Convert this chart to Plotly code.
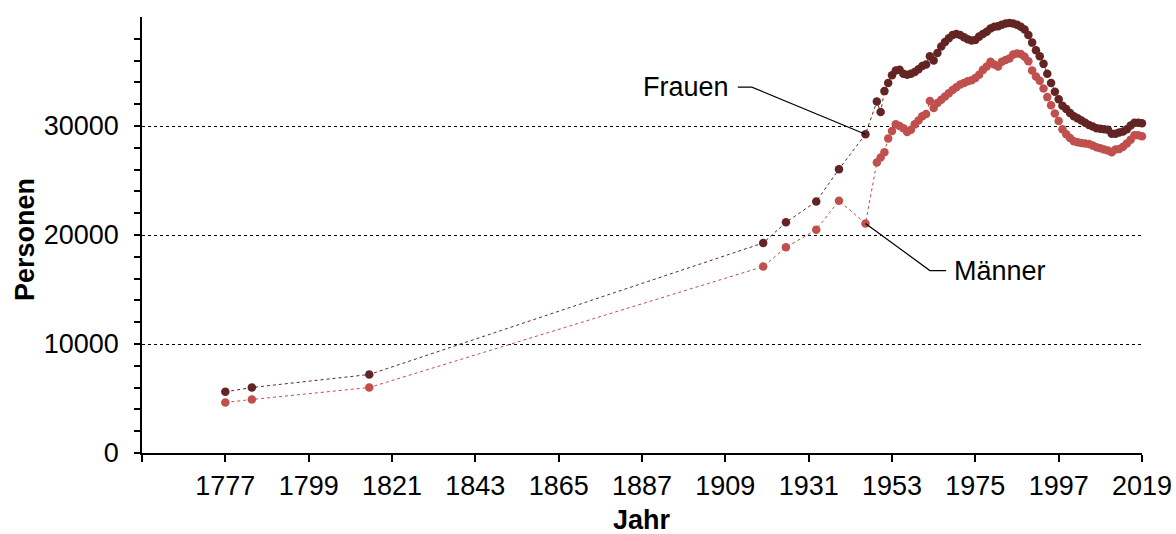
import plotly.graph_objects as go

# ---- data ----
early_years = [1777, 1784, 1815, 1919, 1925, 1933, 1939, 1946]
annual_years = list(range(1949, 2020))
years = early_years + annual_years

frauen_early = [5610, 6010, 7200, 19270, 21160, 23080, 26040, 29250]
frauen_annual = [
    32250, 31280, 33200, 33950, 34650, 35100, 35150, 34800, 34700, 34800,  # 1949-1958
    34950, 35200, 35500, 35650, 36400, 36000, 36700, 37300, 37700, 38050,  # 1959-1968
    38350, 38450, 38350, 38150, 37950, 37850, 37900, 38200, 38450, 38650,  # 1969-1978
    38950, 39100, 39150, 39300, 39400, 39450, 39400, 39300, 39100, 38850,  # 1979-1988
    38350, 37650, 36950, 36400, 35700, 34800, 33950, 33150, 32450, 31850,  # 1989-1998
    31550, 31200, 30900, 30700, 30500, 30300, 30100, 29950, 29800, 29750,  # 1999-2008
    29700, 29650, 29300, 29300, 29400, 29500, 29700, 30050, 30300, 30300,  # 2009-2018
    30250,                                                                  # 2019
]
frauen = frauen_early + frauen_annual

maenner_early = [4640, 4910, 6010, 17100, 18870, 20490, 23140, 21060]
maenner_annual = [
    26650, 27100, 27600, 28850, 29550, 30150, 30000, 29800, 29450, 29650,  # 1949-1958
    30150, 30500, 30900, 31100, 32300, 31650, 32100, 32400, 32700, 33000,  # 1959-1968
    33300, 33550, 33800, 33950, 34100, 34200, 34400, 34700, 35150, 35450,  # 1969-1978
    35900, 35650, 35450, 35900, 36050, 36200, 36550, 36650, 36600, 36350,  # 1979-1988
    35950, 35100, 34550, 34150, 33450, 32650, 31900, 31150, 30450, 29700,  # 1989-1998
    29250, 28900, 28600, 28500, 28450, 28400, 28350, 28200, 28050, 27950,  # 1999-2008
    27850, 27750, 27600, 27850, 27900, 28100, 28400, 28750, 29150, 29150,  # 2009-2018
    29050,                                                                  # 2019
]
maenner = maenner_early + maenner_annual

x_tick_years = [1755, 1777, 1799, 1821, 1843, 1865, 1887, 1909, 1931, 1953, 1975, 1997, 2019]
x_tick_text = [""] + [str(v) for v in x_tick_years[1:]]
y_tick_vals = [0, 10000, 20000, 30000]
y_tick_text = [str(v) for v in y_tick_vals]
y_minor_vals = [v for v in range(2000, 40000, 2000) if v % 10000 != 0]

label_year = 1946
FONT = "Liberation Sans, Arial, sans-serif"
FS = 27
C_F = "#632523"
C_M = "#C0504D"

fig = go.Figure()
fig.add_trace(go.Scatter(
    x=years, y=frauen, mode="lines+markers", name="Frauen",
    line=dict(color=C_F, width=1, dash="dot"),
    marker=dict(color=C_F, size=8.5), cliponaxis=False,
))
fig.add_trace(go.Scatter(
    x=years, y=maenner, mode="lines+markers", name="Männer",
    line=dict(color=C_M, width=1, dash="dot"),
    marker=dict(color=C_M, size=8.5), cliponaxis=False,
))

# leader lines for labels, anchored to the 1946 data points
fv = frauen[years.index(label_year)]
mv = maenner[years.index(label_year)]
fig.add_shape(type="path", xref="x", yref="y",
              path=f"M 1912.3,33570 L 1916.0,33570 L {label_year},{fv}",
              line=dict(color="black", width=1.2))
fig.add_shape(type="path", xref="x", yref="y",
              path=f"M {label_year},{mv} L 1963.0,16740 L 1967.3,16740",
              line=dict(color="black", width=1.2))

fig.add_annotation(x=1910.6, y=33570, xref="x", yref="y", text="Frauen",
                   showarrow=False, xanchor="right", yanchor="middle",
                   font=dict(family=FONT, size=FS, color="black"))
fig.add_annotation(x=1968.8, y=16740, xref="x", yref="y", text="Männer",
                   showarrow=False, xanchor="left", yanchor="middle",
                   font=dict(family=FONT, size=FS, color="black"))

# axis titles
fig.add_annotation(x=0, y=0.5, xref="paper", yref="paper", xshift=-117, yshift=-5,
                   text="<b>Personen</b>", textangle=-90, showarrow=False,
                   xanchor="center", yanchor="middle",
                   font=dict(family=FONT, size=FS, color="black"))
fig.add_annotation(x=0.5, y=0, xref="paper", yref="paper", yshift=-67,
                   text="<b>Jahr</b>", showarrow=False,
                   xanchor="center", yanchor="middle",
                   font=dict(family=FONT, size=FS, color="black"))

fig.update_layout(
    width=1176, height=534,
    margin=dict(l=142, r=34, t=17, b=81),
    paper_bgcolor="white", plot_bgcolor="white",
    showlegend=False,
    font=dict(family=FONT, size=FS, color="black"),
    xaxis=dict(
        range=[1755, 2019], tickvals=x_tick_years, ticktext=x_tick_text,
        showline=True, linecolor="black", linewidth=1.5,
        ticks="outside", ticklen=7, tickcolor="black", tickwidth=1.5,
        showgrid=False, zeroline=False, ticklabelstandoff=1, automargin=False,
        tickfont=dict(family=FONT, size=FS, color="black"),
    ),
    yaxis=dict(
        range=[0, 40000], tickvals=y_tick_vals, ticktext=y_tick_text,
        showline=True, linecolor="black", linewidth=1.5,
        ticks="outside", ticklen=6, tickcolor="black", tickwidth=1.5,
        showgrid=True, gridcolor="black", griddash="dot", gridwidth=1,
        zeroline=False, ticklabelstandoff=10, automargin=False,
        tickfont=dict(family=FONT, size=FS, color="black"),
        minor=dict(tickvals=y_minor_vals, ticks="outside", ticklen=6,
                   tickcolor="black", tickwidth=1.5, showgrid=False),
    ),
)

fig.write_html(
    "out.html",
    config={"displayModeBar": False},
    post_script="document.body.style.margin='0';document.body.style.overflow='hidden';",
)
